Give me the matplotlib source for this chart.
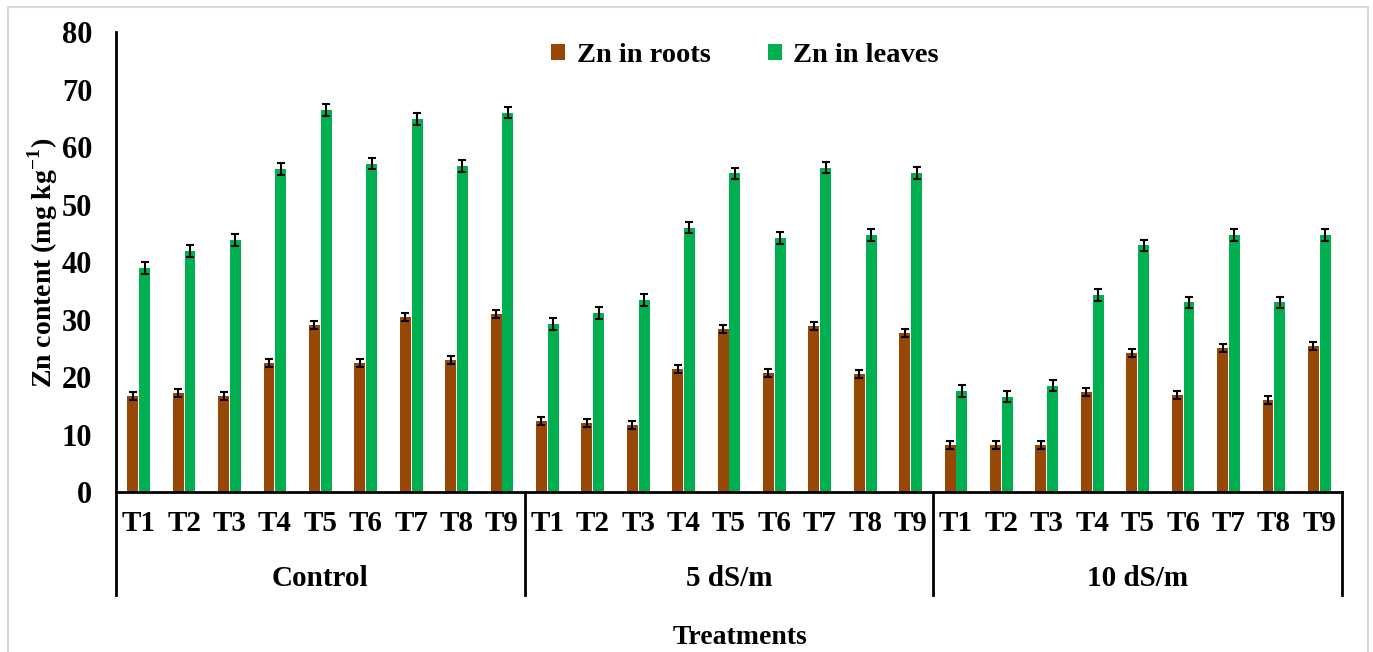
import matplotlib.pyplot as plt
import matplotlib.transforms as mtransforms
from matplotlib.patches import Rectangle
import numpy as np

plt.rcParams['font.family'] = ['Liberation Serif', 'DejaVu Serif']
plt.rcParams['font.weight'] = 'bold'
plt.rcParams['mathtext.fontset'] = 'custom'
plt.rcParams['mathtext.rm'] = 'Liberation Serif:bold'
plt.rcParams['mathtext.bf'] = 'Liberation Serif:bold'

groups = ['Control', '5 dS/m', '10 dS/m']
treatments = ['T1', 'T2', 'T3', 'T4', 'T5', 'T6', 'T7', 'T8', 'T9']

roots = [16.7, 17.2, 16.7, 22.4, 29.0, 22.4, 30.4, 23.0, 31.0,
         12.3, 12.0, 11.6, 21.4, 28.4, 20.7, 28.8, 20.6, 27.7,
         8.2, 8.1, 8.1, 17.4, 24.2, 16.9, 25.0, 16.0, 25.4]
leaves = [39.0, 41.9, 43.8, 56.2, 66.4, 57.1, 64.9, 56.7, 66.0,
          29.2, 31.1, 33.4, 46.0, 55.4, 44.2, 56.4, 44.7, 55.5,
          17.6, 16.6, 18.5, 34.3, 42.9, 33.0, 44.7, 33.0, 44.7]
roots_err = [0.7] * 27
leaves_err = [1.0] * 27

fig = plt.figure(figsize=(13.73, 6.52), dpi=100)
ax = fig.add_axes([0.0845, 0.2454, 0.8929, 0.7055])

x = np.arange(len(roots))
w = 0.24
ekw = dict(ecolor='black', elinewidth=1.5, capsize=3.2, capthick=1.5)
ax.bar(x - 0.13, roots, w, yerr=roots_err, color='#974706', label='Zn in roots', error_kw=ekw)
ax.bar(x + 0.13, leaves, w, yerr=leaves_err, color='#00B050', label='Zn in leaves', error_kw=ekw)

ax.set_xlim(-0.5, len(roots) - 0.5)
ax.set_ylim(0, 80)
ax.set_yticks(range(0, 81, 10))
ax.set_xticks(x)
ax.set_xticklabels(treatments * 3)
ax.tick_params(axis='y', length=0, pad=17, labelsize=22)
ax.tick_params(axis='x', length=0, pad=13, labelsize=21)
for s in ['top', 'right']:
    ax.spines[s].set_visible(False)
for s in ['left', 'bottom']:
    ax.spines[s].set_linewidth(2)

# group separators and labels below the axis
trans = mtransforms.blended_transform_factory(ax.transData, ax.transAxes)
for b in [-0.5, 8.5, 17.5, 26.5]:
    ax.plot([b, b], [0, -0.224], color='black', lw=2, transform=trans, clip_on=False)
for i, g in enumerate(groups):
    ax.text(i * 9 + 4, -0.187, g, transform=trans, ha='center', va='center',
            fontsize=21, fontweight='bold')

ax.legend(loc='center', bbox_to_anchor=(0.513, 0.948), ncol=2, frameon=False,
          fontsize=20.5, handlelength=0.5, handleheight=0.5, columnspacing=2.0,
          handletextpad=0.4)

fig.text(0.031, 0.597, 'Zn content (mg kg$^{-1}$)', rotation=90,
         ha='center', va='center', fontsize=20, fontweight='bold')
fig.text(0.539, 0.023, 'Treatments', ha='center', va='center',
         fontsize=20, fontweight='bold')

fig.patches.append(Rectangle((8 / 1373, -0.1), 1360 / 1373, 1.1 - 7 / 652,
                             transform=fig.transFigure, fill=False,
                             edgecolor='#d9d9d9', lw=1.5))

fig.savefig('out.png', dpi=100)
